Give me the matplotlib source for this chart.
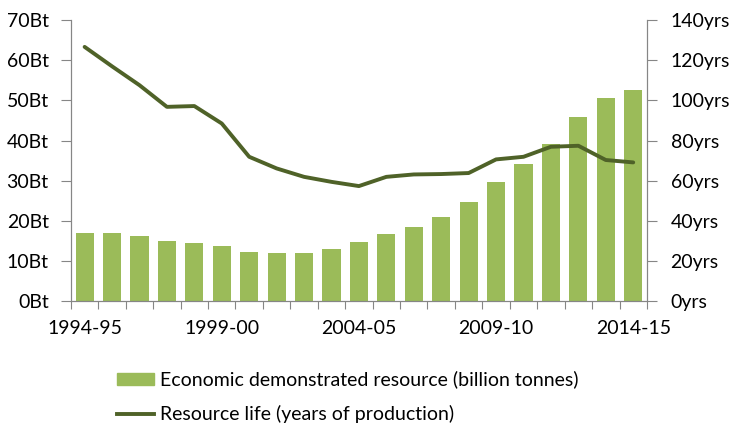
import matplotlib
matplotlib.use("Agg")
import matplotlib.pyplot as plt
from matplotlib.patches import Patch
from matplotlib.lines import Line2D

plt.rcParams['font.family'] = ['Lato', 'DejaVu Sans']

# Financial years and values
years = ['1994-95', '1995-96', '1996-97', '1997-98', '1998-99', '1999-00',
         '2000-01', '2001-02', '2002-03', '2003-04', '2004-05', '2005-06',
         '2006-07', '2007-08', '2008-09', '2009-10', '2010-11', '2011-12',
         '2012-13', '2013-14', '2014-15']
edr_bt = [17.0, 17.0, 16.3, 15.0, 14.4, 13.8, 12.2, 11.9, 11.9, 12.9, 14.7,
          16.6, 18.4, 20.9, 24.7, 29.7, 34.1, 39.1, 45.9, 50.6, 52.6]
life_yrs = [126.7, 117.0, 107.6, 96.8, 97.2, 88.5, 71.9, 66.1, 61.9, 59.4,
            57.3, 61.9, 63.1, 63.3, 63.8, 70.6, 71.9, 76.9, 77.4, 70.3, 69.1]
shown_labels = ['1994-95', '1999-00', '2004-05', '2009-10', '2014-15']

bar_color = '#9BBB59'
line_color = '#4F6228'
axis_color = '#868686'
fs = 14

fig = plt.figure(figsize=(7.31, 4.30), dpi=100)
ax = fig.add_axes([0.097, 0.30, 0.788, 0.653])
ax2 = ax.twinx()

x = list(range(len(years)))
ax.bar(x, edr_bt, width=0.66, color=bar_color, zorder=2)
ax2.plot(x, life_yrs, color=line_color, lw=2.8, solid_capstyle='round', zorder=3)

ax.set_xlim(-0.5, len(years) - 0.5)
ax.set_ylim(0, 70)
ax2.set_ylim(0, 140)
ax.set_yticks(range(0, 71, 10))
ax.set_yticklabels([f'{v}Bt' for v in range(0, 71, 10)])
ax2.set_yticks(range(0, 141, 20))
ax2.set_yticklabels([f'{v}yrs' for v in range(0, 141, 20)])

# tick marks sit between categories, labels under every fifth year
ax.set_xticks([i - 0.5 for i in range(len(years) + 1)])
ax.set_xticklabels([])
ax.set_xticks([years.index(y) for y in shown_labels], shown_labels, minor=True)
ax.tick_params(axis='x', which='major', length=6, color=axis_color, direction='out')
ax.tick_params(axis='x', which='minor', length=0, pad=14, labelsize=fs)
ax.tick_params(axis='y', length=7, color=axis_color, pad=9, labelsize=fs)
ax2.tick_params(axis='y', length=7, color=axis_color, pad=10, labelsize=fs)

for a in (ax, ax2):
    a.spines['top'].set_visible(False)
    for s in ('left', 'right', 'bottom'):
        a.spines[s].set_color(axis_color)
ax2.set_zorder(ax.get_zorder() + 1)
ax2.patch.set_visible(False)

handles = [Patch(color=bar_color),
           Line2D([], [], color=line_color, lw=2.8)]
labels = ['Economic demonstrated resource (billion tonnes)',
          'Resource life (years of production)']
fig.legend(handles, labels, loc='upper left', bbox_to_anchor=(0.16, 0.138),
           frameon=False, fontsize=fs, handlelength=1.9, handleheight=0.6,
           handletextpad=0.3, labelspacing=0.85, borderaxespad=0, borderpad=0)

fig.savefig('out.png', dpi=100)
